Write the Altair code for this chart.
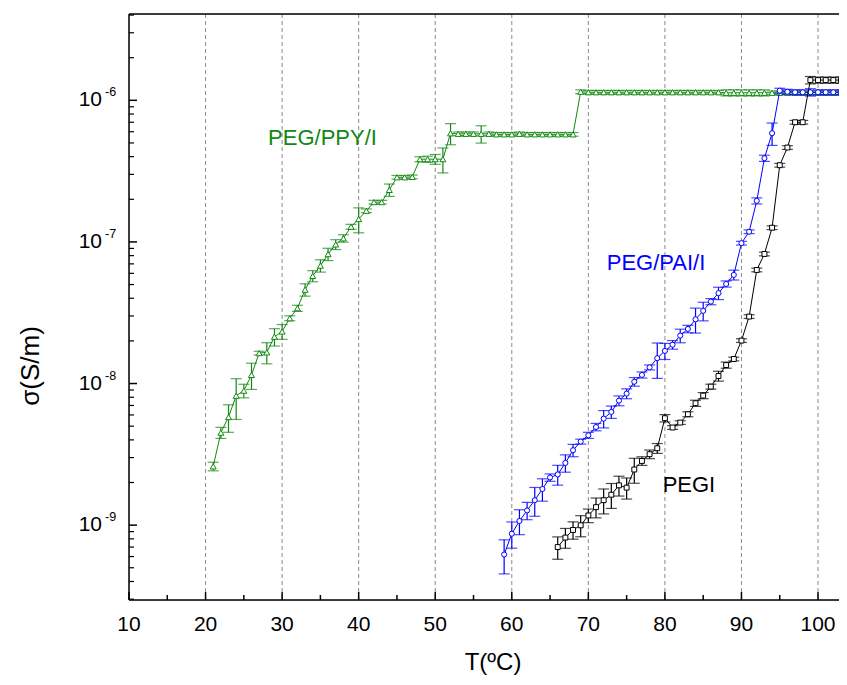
import altair as alt
import pandas as pd

FONT = "Liberation Sans"

# ---------------- data ----------------
# PEG/PPY/I (green, triangles)
ppy_T = list(range(21, 104))
ppy_s = [2.6e-9, 4.5e-9, 5.8e-9, 8.2e-9, 8.9e-9, 1.15e-8, 1.64e-8, 1.66e-8, 2.14e-8, 2.33e-8,
         2.89e-8, 3.4e-8, 4.6e-8, 5.75e-8, 6.8e-8, 8.2e-8, 9.6e-8, 1.06e-7, 1.28e-7, 1.45e-7,
         1.66e-7, 1.91e-7, 1.91e-7, 2.33e-7, 2.86e-7, 2.86e-7, 2.88e-7, 3.84e-7, 3.84e-7, 3.84e-7,
         3.84e-7,
         5.85e-7, 5.8e-7, 5.8e-7, 5.8e-7, 5.8e-7, 5.8e-7, 5.75e-7, 5.75e-7, 5.75e-7, 5.8e-7,
         5.75e-7, 5.75e-7, 5.75e-7, 5.75e-7, 5.75e-7, 5.75e-7, 5.75e-7,
         1.15e-6, 1.14e-6, 1.14e-6, 1.14e-6, 1.14e-6, 1.14e-6, 1.14e-6, 1.14e-6, 1.14e-6, 1.14e-6,
         1.14e-6, 1.14e-6, 1.14e-6, 1.14e-6, 1.14e-6, 1.14e-6, 1.14e-6, 1.14e-6, 1.14e-6, 1.13e-6,
         1.13e-6, 1.13e-6, 1.13e-6, 1.13e-6, 1.13e-6, 1.13e-6, 1.13e-6, 1.13e-6, 1.13e-6, 1.13e-6,
         1.13e-6, 1.13e-6, 1.13e-6, 1.13e-6, 1.13e-6]
ppy_e = [0.07, 0.09, 0.22, 0.32, 0.11, 0.21, 0.03, 0.17, 0.14, 0.12,
         0.04, 0.05, 0.10, 0.09, 0.10, 0.10, 0.08, 0.06, 0.04, 0.20,
         0.03, 0.03, 0.03, 0.10, 0.03, 0.03, 0.03, 0.04, 0.05, 0.08,
         0.20,
         0.17, 0.03, 0.03, 0.03, 0.14, 0.03, 0.03, 0.03, 0.03, 0.03,
         0.03, 0.03, 0.03, 0.03, 0.03, 0.03, 0.03,
         0.03, 0.03, 0.03, 0.03, 0.03, 0.03, 0.03, 0.03, 0.03, 0.03,
         0.03, 0.03, 0.03, 0.03, 0.03, 0.03, 0.03, 0.03, 0.03, 0.05,
         0.05, 0.05, 0.05, 0.05, 0.05, 0.03, 0.03, 0.03, 0.03, 0.03,
         0.03, 0.03, 0.03, 0.03, 0.03]

# PEG/PAI/I (blue, circles)
pai_T = list(range(59, 104))
pai_s = [6.2e-10, 8.7e-10, 1.07e-9, 1.27e-9, 1.5e-9, 1.8e-9, 2.17e-9, 2.28e-9, 2.75e-9, 3.38e-9,
         3.89e-9, 4.31e-9, 4.93e-9, 5.65e-9, 6.3e-9, 7.57e-9, 8.49e-9, 1.03e-8, 1.15e-8, 1.3e-8,
         1.51e-8, 1.70e-8, 1.88e-8, 2.18e-8, 2.43e-8, 2.84e-8, 3.26e-8, 3.79e-8, 4.35e-8, 5.05e-8,
         5.85e-8, 9.8e-8, 1.18e-7, 1.95e-7, 3.9e-7, 5.86e-7, 1.17e-6, 1.15e-6, 1.14e-6, 1.14e-6,
         1.14e-6, 1.14e-6, 1.14e-6, 1.14e-6, 1.14e-6]
pai_e = [0.27, 0.21, 0.20, 0.14, 0.23, 0.18, 0.06, 0.16, 0.14, 0.10,
         0.04, 0.05, 0.06, 0.14, 0.10, 0.08, 0.08, 0.07, 0.05, 0.04,
         0.28, 0.13, 0.07, 0.11, 0.06, 0.20, 0.15, 0.05, 0.10, 0.05,
         0.08, 0.03, 0.03, 0.05, 0.05, 0.18, 0.04, 0.04, 0.04, 0.04,
         0.06, 0.04, 0.04, 0.04, 0.04]

# PEGI (black, squares)
pegi_T = list(range(66, 104))
pegi_s = [7.0e-10, 8.17e-10, 9.25e-10, 9.97e-10, 1.17e-9, 1.34e-9, 1.5e-9, 1.64e-9, 1.91e-9, 1.84e-9,
          2.47e-9, 2.84e-9, 3.17e-9, 3.49e-9, 5.69e-9, 4.89e-9, 5.3e-9, 6.07e-9, 7.26e-9, 8.22e-9,
          9.51e-9, 1.13e-8, 1.35e-8, 1.49e-8, 2.01e-8, 2.97e-8, 6.34e-8, 8.22e-8, 1.26e-7, 3.48e-7,
          4.64e-7, 7.0e-7, 7.0e-7, 1.39e-6, 1.39e-6, 1.39e-6, 1.39e-6, 1.39e-6]
pegi_e = [0.18, 0.16, 0.14, 0.17, 0.11, 0.16, 0.20, 0.20, 0.16, 0.17,
          0.20, 0.07, 0.07, 0.08, 0.06, 0.03, 0.03, 0.04, 0.05, 0.05,
          0.04, 0.08, 0.05, 0.03, 0.03, 0.03, 0.03, 0.03, 0.03, 0.03,
          0.03, 0.03, 0.03, 0.06, 0.05, 0.05, 0.05, 0.05]

x_major = [10, 20, 30, 40, 50, 60, 70, 80, 90, 100]
x_minor = [15, 25, 35, 45, 55, 65, 75, 85, 95]
x_grid = [20, 30, 40, 50, 60, 70, 80, 90, 100]
y_major = [1e-9, 1e-8, 1e-7, 1e-6]
y_exp = ["-9", "-8", "-7", "-6"]
y_minor = [m * d for d in [1e-10, 1e-9, 1e-8, 1e-7, 1e-6] for m in range(2, 10)
           if 2.96e-10 <= m * d <= 4.07e-6]

labels = ["PEG/PPY/I", "PEG/PAI/I", "PEGI"]
label_T = [35.27, 78.84, 83.14]
label_s = [4.84e-7, 6.34e-8, 1.726e-9]
label_color = ["#118811", "#0000ff", "#000000"]

# ---------------- chart ----------------
W, H = 710, 586
xs = alt.Scale(domain=[10, 102.74], nice=False, zero=False)
ys = alt.Scale(type="log", domain=[2.96e-10, 4.07e-6], nice=False)


def frame(T, S, E):
    return pd.DataFrame({
        "T": T, "s": S,
        "lo": [s * (1 - e) for s, e in zip(S, E)],
        "hi": [s * (1 + e) for s, e in zip(S, E)],
    })


X = lambda f="T": alt.X(f"{f}:Q", scale=xs, axis=None)
Y = lambda f="s": alt.Y(f"{f}:Q", scale=ys, axis=None)
one = pd.DataFrame({"a": [0]})

# gridlines
grid = alt.Chart(pd.DataFrame({"T": x_grid})).mark_rule(
    color="#8a8a8a", strokeDash=[4, 3], strokeWidth=1).encode(x=X())

# frame lines
left = alt.Chart(one).mark_rule(color="black", strokeWidth=1.5).encode(
    x=alt.value(0), y=alt.value(0), y2=alt.value(H))
bottom = alt.Chart(one).mark_rule(color="black", strokeWidth=1.5).encode(
    x=alt.value(0), x2=alt.value(W), y=alt.value(H))
top = alt.Chart(one).mark_rule(color="black", strokeWidth=1.5).encode(
    x=alt.value(0), x2=alt.value(W), y=alt.value(0))

xt_major = alt.Chart(pd.DataFrame({"T": x_major})).mark_rule(color="black", strokeWidth=1.5).encode(
    x=X(), y=alt.value(H), y2=alt.value(H - 8))
xt_minor = alt.Chart(pd.DataFrame({"T": x_minor})).mark_rule(color="black", strokeWidth=1.5).encode(
    x=X(), y=alt.value(H), y2=alt.value(H - 5))
yt_major = alt.Chart(pd.DataFrame({"v": y_major})).mark_rule(color="black", strokeWidth=1.5).encode(
    y=Y("v"), x=alt.value(0), x2=alt.value(8))
yt_minor = alt.Chart(pd.DataFrame({"v": y_minor})).mark_rule(color="black", strokeWidth=1.2).encode(
    y=Y("v"), x=alt.value(0), x2=alt.value(5))

xlab = alt.Chart(pd.DataFrame({"T": x_major, "t": [str(v) for v in x_major]})).mark_text(
    align="center", baseline="alphabetic", fontSize=21, font=FONT, color="black"
).encode(x=X(), y=alt.value(H + 31), text="t:N")

ylab_df = pd.DataFrame({"v": y_major, "base": ["10"] * 4, "exp": y_exp})
ylab = alt.Chart(ylab_df).mark_text(align="right", baseline="middle", fontSize=21, font=FONT,
                                    color="black").encode(y=Y("v"), x=alt.value(-27), text="base:N")
yexp = alt.Chart(ylab_df).mark_text(align="left", baseline="middle", fontSize=12.5, font=FONT,
                                    color="black", dy=-8).encode(y=Y("v"), x=alt.value(-24), text="exp:N")

ytitle = alt.Chart(pd.DataFrame({"t": ["σ(S/m)"]})).mark_text(
    angle=270, align="center", baseline="middle", fontSize=26, font=FONT, color="black"
).encode(x=alt.value(-98), y=alt.value(352), text="t:N")
xtitle = alt.Chart(pd.DataFrame({"t": ["T(ºC)"]})).mark_text(
    align="center", baseline="alphabetic", fontSize=24, font=FONT, color="black"
).encode(x=alt.value(364), y=alt.value(656), text="t:N")


def series(T, S, E, color, shape, size):
    df = frame(T, S, E)
    base = alt.Chart(df)
    line = base.mark_line(color=color, strokeWidth=1).encode(x=X(), y=Y())
    err = base.mark_rule(color=color, strokeWidth=1.2).encode(x=X(), y=Y("lo"), y2="hi:Q")
    cap_lo = base.mark_tick(orient="horizontal", size=11, thickness=1.2, color=color).encode(x=X(), y=Y("lo"))
    cap_hi = base.mark_tick(orient="horizontal", size=11, thickness=1.2, color=color).encode(x=X(), y=Y("hi"))
    pts = base.mark_point(shape=shape, filled=True, fill="white", stroke=color, strokeWidth=1,
                          size=size, opacity=1).encode(x=X(), y=Y())
    return [line, err, cap_lo, cap_hi, pts]


lab_df = pd.DataFrame({"T": label_T, "s": label_s, "t": labels, "c": label_color})
ann = alt.Chart(lab_df).mark_text(align="center", baseline="alphabetic", fontSize=22, font=FONT).encode(
    x=X(), y=Y(), text="t:N", color=alt.Color("c:N", scale=None))

layers = [grid]
layers += series(ppy_T, ppy_s, ppy_e, "#118811", "triangle-up", 36)
layers += series(pai_T, pai_s, pai_e, "#0000ff", "circle", 26)
layers += series(pegi_T, pegi_s, pegi_e, "#000000", "square", 24)
layers += [left, bottom, top, xt_major, xt_minor, yt_major, yt_minor, xlab, ylab, yexp,
           ytitle, xtitle, ann]

chart = alt.layer(*layers).properties(
    width=W, height=H,
    autosize=alt.AutoSizeParams(type="none"),
    padding={"left": 121, "top": 6, "right": 0, "bottom": 77},
).configure_view(stroke=None).configure(background="white")

chart.save("out.html", embed_options={"renderer": "svg", "actions": False})
